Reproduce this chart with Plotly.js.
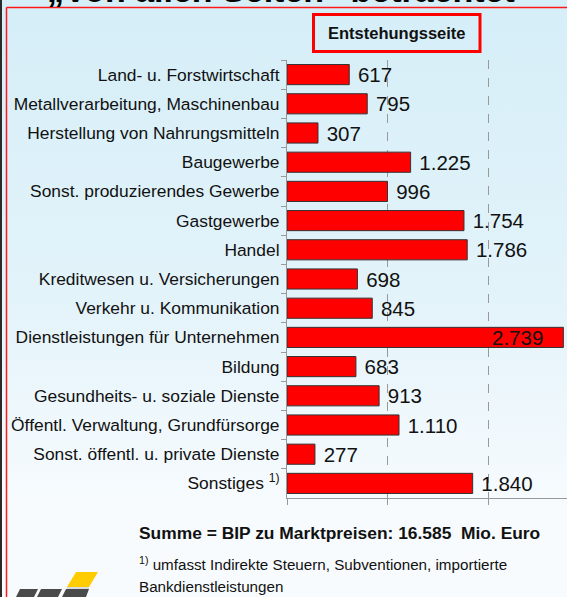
<!DOCTYPE html>
<html>
<head>
<meta charset="utf-8">
<script src="https://cdn.plot.ly/plotly-3.0.1.min.js"></script>
<style>
html,body{margin:0;padding:0;}
body{width:567px;height:597px;overflow:hidden;background:linear-gradient(to bottom,#d5eef8 0%,#e3f3fa 50%,#f7fbfe 85%,#f8fbfe 100%);}
#chart{width:567px;height:597px;}
</style>
</head>
<body>
<div id="chart"></div>
<script>
const categories = [
  "Land- u. Forstwirtschaft",
  "Metallverarbeitung, Maschinenbau",
  "Herstellung von Nahrungsmitteln",
  "Baugewerbe",
  "Sonst. produzierendes Gewerbe",
  "Gastgewerbe",
  "Handel",
  "Kreditwesen u. Versicherungen",
  "Verkehr u. Kommunikation",
  "Dienstleistungen für Unternehmen",
  "Bildung",
  "Gesundheits- u. soziale Dienste",
  "Öffentl. Verwaltung, Grundfürsorge",
  "Sonst. öffentl. u. private Dienste",
  "Sonstiges <sup>1)</sup>"
];
const values = [617, 795, 307, 1225, 996, 1754, 1786, 698, 845, 2739, 683, 913, 1110, 277, 1840];
const xTicks = [0, 1000, 2000];
const headerText = "Entstehungsseite";
const titleText = "„Von allen Seiten“ betrachtet";
const sumText = "Summe = BIP zu Marktpreisen: 16.585  Mio. Euro";
const noteLine1 = "<sup>1)</sup> umfasst Indirekte Steuern, Subventionen, importierte";
const noteLine2 = "Bankdienstleistungen";

const fmt = v => v.toLocaleString('de-DE');
const maxV = Math.max(...values);
const labels = values.map(v => v === maxV ? fmt(v) + '\u00a0\u00a0\u00a0' : '\u00a0' + fmt(v));
const positions = values.map(v => v === maxV ? 'inside' : 'outside');

const FONT = '"Liberation Sans", Arial, sans-serif';

// pixel -> paper helpers (plot area 287..567 x 60..498)
const X0 = 287, PW = 280, Y0 = 498, PH = 438;
const px = p => (p - X0) / PW;
const py = p => (Y0 - p) / PH;

function poly(pts, color) {
  let d = pts.map((p, i) => (i ? 'L' : 'M') + px(p[0]) + ',' + py(p[1])).join(' ') + ' Z';
  return {type: 'path', xref: 'paper', yref: 'paper', path: d, fillcolor: color, line: {width: 0}, layer: 'above'};
}

const shapes = [
  {type: 'rect', xref: 'paper', yref: 'paper', x0: px(0), x1: px(2), y0: py(0), y1: py(597), fillcolor: '#2a2a2a', line: {width: 0}},
  {type: 'line', xref: 'paper', yref: 'paper', x0: px(6.5), x1: px(567), y0: py(7.5), y1: py(7.5), line: {color: '#ff1a1a', width: 1.5}},
  {type: 'line', xref: 'paper', yref: 'paper', x0: px(6.5), x1: px(6.5), y0: py(7.5), y1: py(597), line: {color: '#ff1a1a', width: 1.5}},
  {type: 'rect', xref: 'paper', yref: 'paper', x0: px(313.5), x1: px(480), y0: py(14.5), y1: py(51.5), line: {color: '#ff0000', width: 3}, fillcolor: 'rgba(0,0,0,0)'},
  poly([[76, 572], [98, 572], [89, 587], [67, 587]], '#ffcc00'),
  poly([[20, 589], [38, 589], [34, 597], [16, 597]], '#4a4a4a'),
  poly([[41, 589], [62, 589], [58, 597], [37, 597]], '#4a4a4a'),
  poly([[66, 589], [89, 589], [86, 597], [62, 597]], '#4a4a4a'),
  {type: 'line', xref: 'paper', yref: 'paper', x0: px(67), x1: px(89), y0: py(588), y1: py(588), line: {color: '#bbbbbb', width: 1}}
];

const annotations = [
  {xref: 'paper', yref: 'paper', x: px(45), y: py(11), xanchor: 'left', yanchor: 'bottom', showarrow: false,
   text: '<b>' + titleText + '</b>', font: {family: FONT, size: 34, color: '#000'}},
  {xref: 'paper', yref: 'paper', x: px(396.5), y: py(33), xanchor: 'center', yanchor: 'middle', showarrow: false,
   text: '<b>' + headerText + '</b>', font: {family: FONT, size: 16.5, color: '#111'}},
  {xref: 'paper', yref: 'paper', x: px(137), y: py(533), xanchor: 'left', yanchor: 'middle', showarrow: false,
   text: '<b>' + sumText + '</b>', font: {family: FONT, size: 17.4, color: '#111'}},
  {xref: 'paper', yref: 'paper', x: px(137), y: py(563), xanchor: 'left', yanchor: 'middle', showarrow: false,
   text: noteLine1, font: {family: FONT, size: 15.2, color: '#111'}},
  {xref: 'paper', yref: 'paper', x: px(137), y: py(586), xanchor: 'left', yanchor: 'middle', showarrow: false,
   text: noteLine2, font: {family: FONT, size: 15.2, color: '#111'}}
];

const trace = {
  type: 'bar',
  orientation: 'h',
  y: categories,
  x: values,
  text: labels,
  textposition: positions,
  insidetextanchor: 'end',
  constraintext: 'none',
  cliponaxis: false,
  textfont: {family: FONT, size: 20.5, color: '#111'},
  insidetextfont: {family: FONT, size: 20.5, color: '#111'},
  outsidetextfont: {family: FONT, size: 20.5, color: '#111'},
  marker: {color: '#ff0000', line: {color: '#333333', width: 1}},
  hoverinfo: 'none'
};

const layout = {
  width: 567, height: 597,
  margin: {l: 287, r: 0, t: 60, b: 99, pad: 0},
  paper_bgcolor: 'rgba(0,0,0,0)',
  plot_bgcolor: 'rgba(0,0,0,0)',
  showlegend: false,
  bargap: 0.31,
  xaxis: {
    range: [0, 2775], tickvals: xTicks, showticklabels: false,
    ticks: 'outside', ticklen: 6, tickcolor: '#999', tickwidth: 1,
    showline: true, linecolor: '#999', linewidth: 1,
    showgrid: true, gridcolor: '#999', griddash: 'dash', gridwidth: 1,
    zeroline: false, fixedrange: true
  },
  yaxis: {
    type: 'category', autorange: 'reversed',
    tickson: 'boundaries', ticks: 'outside', ticklen: 5, tickcolor: '#999', tickwidth: 1,
    ticklabelstandoff: 3,
    showline: true, linecolor: '#999', linewidth: 1, showgrid: false,
    tickfont: {family: FONT, size: 17.4, color: '#111'},
    fixedrange: true
  },
  shapes: shapes,
  annotations: annotations
};

Plotly.newPlot('chart', [trace], layout, {displayModeBar: false, staticPlot: true});
</script>
</body>
</html>
